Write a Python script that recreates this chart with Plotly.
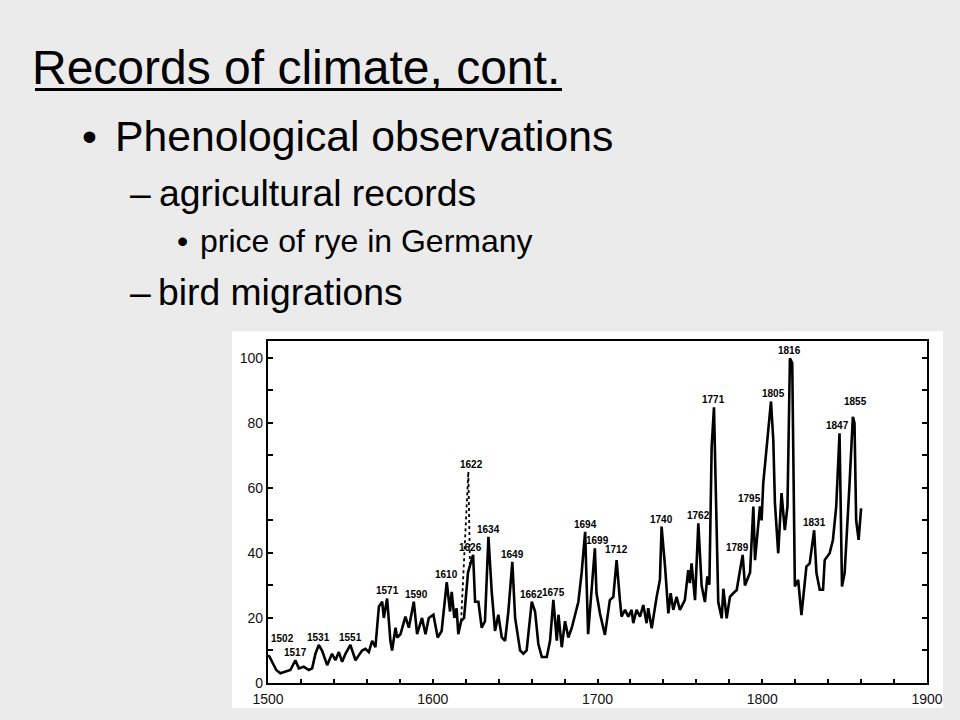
import plotly.graph_objects as go

# ---------------- data ----------------
years = [1500.0, 1500.9, 1503, 1505, 1507.5, 1510.6, 1513.6, 1516.6, 1518.7, 1521.7,
         1524.7, 1526.8, 1528.8, 1530.8, 1532.8, 1535.9, 1538.9, 1540.9, 1543, 1545,
         1547, 1550, 1553.1, 1555.1, 1557.1, 1559.2, 1561.2, 1563.2, 1565.2, 1567.3,
         1569.3, 1570.3, 1572.3, 1574.3, 1575.3, 1577.4, 1578.4, 1580.4, 1583.4, 1585.5,
         1588.5, 1590.5, 1593.5, 1595.6, 1597.6, 1600.4, 1603, 1605.4, 1608.5, 1610.5,
         1611.5, 1613.1, 1614.5, 1615.5, 1617.2, 1619, 1621.4, 1624.5, 1625.7, 1627.7,
         1629.7, 1631.7, 1633.8, 1635.8, 1637.8, 1639.8, 1641.9, 1643.9, 1645.9, 1648.3,
         1650, 1653, 1655, 1657, 1660.1, 1662.1, 1664.1, 1666.2, 1669.2, 1671.2,
         1673.2, 1675.3, 1676.3, 1678.3, 1680.3, 1682.3, 1684.4, 1686.4, 1688.4, 1690.4,
         1692.5, 1694.3, 1696, 1698.4, 1699.4, 1701.5, 1704.5, 1707.5, 1709.6, 1711.6,
         1713.6, 1714.6, 1716.7, 1718.7, 1720.7, 1721.7, 1723.7, 1725.8, 1727.8, 1729.8,
         1730.8, 1732.9, 1735.9, 1737.9, 1738.9, 1741, 1743, 1744.4, 1746, 1748,
         1750, 1753, 1755.1, 1756.1, 1757.1, 1759.2, 1761.2, 1763.2, 1765.2, 1766.7,
         1767.9, 1769.3, 1770.7, 1773.3, 1775.4, 1776.4, 1778.4, 1780.4, 1782.4, 1784.5,
         1786.5, 1787.3, 1788.1, 1789.5, 1792.6, 1794.6, 1795.6, 1798.6, 1799.6, 1800.6,
         1802.6, 1805.3, 1806.7, 1807.7, 1809.7, 1811.7, 1813.7, 1815.3, 1816.8, 1818.2,
         1819.8, 1821.8, 1823.8, 1826.8, 1828.8, 1831.5, 1832.9, 1834.9, 1836.9, 1837.9,
         1840.9, 1842.9, 1844.9, 1846.9, 1848.4, 1850, 1853, 1855, 1856, 1857,
         1858.5, 1860]
price = [8.5, 8.1, 6, 4, 3, 3.5, 4, 7, 4.5, 5,
         4, 4.5, 9, 11.7, 10, 5.5, 9, 7, 9.5, 6.5,
         9, 11.7, 7, 8.5, 10, 10.5, 9.5, 13, 11, 23.5,
         25, 20, 26, 13, 10, 17, 14, 15, 20.4, 17,
         25, 15, 20, 15, 20, 21, 14, 16, 31, 22,
         28, 20, 23, 15, 19, 20, 34, 39.4, 25, 25,
         17, 19, 45, 28, 16, 21, 14, 13, 22, 37.3,
         20, 10, 9, 10, 25, 22, 12, 8, 8, 13,
         25.6, 13, 21, 11, 19, 14, 17, 21, 25, 34,
         46.5, 15, 27, 41.4, 27.6, 21.4, 14.8, 25.5, 26.5, 37.8,
         25.5, 20.4, 22.5, 20.4, 22.5, 18.4, 22.5, 20.4, 24, 18.4,
         23, 16.8, 26.5, 31.8, 48.1, 35.8, 21.4, 27.6, 22.5, 26.5,
         22.5, 25.5, 34.7, 30.7, 36.8, 25.5, 49.1, 30, 24.9, 32.8,
         30.2, 72.7, 84.8, 24.9, 19.9, 29, 19.9, 26.5, 27.6, 28.6,
         34.7, 36.8, 39.4, 30, 34, 54.3, 37.8, 54.3, 50, 61.4,
         72.7, 86.6, 74.8, 55.3, 39.9, 58.4, 47, 54.3, 99.9, 98.4,
         29.7, 31.7, 20.9, 35.8, 36.8, 47, 33.8, 28.7, 28.7, 37.8,
         39.9, 44, 54.3, 76.8, 29.7, 33.8, 61.4, 81.9, 79.9, 50,
         44, 53.7]

dotted_years = [1617.2, 1621.6, 1622.6]
dotted_price = [19, 65, 36]

peak_labels = ["1502", "1517", "1531", "1551", "1571", "1590", "1610", "1622", "1626",
               "1634", "1649", "1662", "1675", "1694", "1699", "1712", "1740", "1762",
               "1771", "1789", "1795", "1805", "1816", "1831", "1847", "1855"]

x_tick_vals = [1500, 1520, 1540, 1560, 1580, 1600, 1620, 1640, 1660, 1680, 1700,
               1720, 1740, 1760, 1780, 1800, 1820, 1840, 1860, 1880, 1900]
x_tick_text = ["1500", "", "", "", "", "1600", "", "", "", "", "1700",
               "", "", "", "", "1800", "", "", "", "", "1900"]
y_tick_vals = [0, 10, 20, 30, 40, 50, 60, 70, 80, 90, 100]
y_tick_text = ["0", "", "20", "", "40", "", "60", "", "80", "", "100"]

title_text = "Records of climate, cont."
level1_text = "Phenological observations"
level2_texts = ["agricultural records", "bird migrations"]
level3_text = "price of rye in Germany"

# ---------------- style / layout ----------------
W, H = 960, 720
L, R, T, B = 268, 927, 341, 683
FONT = "Liberation Sans, Arial, sans-serif"
BG = "#ebebeb"


def px(xp):
    return (xp - L) / (R - L)


def py(yp):
    return (B - yp) / (B - T)


fig = go.Figure()
fig.add_trace(go.Scatter(x=years, y=price, mode="lines",
                         line=dict(color="black", width=2.6),
                         hoverinfo="skip", showlegend=False))
fig.add_trace(go.Scatter(x=dotted_years, y=dotted_price, mode="lines",
                         line=dict(color="black", width=1.8, dash="dot"),
                         hoverinfo="skip", showlegend=False))
# helper trace so the right-hand tick axis is drawn
fig.add_trace(go.Scatter(x=years[:1], y=price[:1], yaxis="y2", mode="markers",
                         marker=dict(opacity=0), hoverinfo="skip", showlegend=False))

label_xshift = {"1502": 14, "1590": 3, "1622": 3, "1626": -3, "1699": 3,
                "1789": -5, "1795": -4, "1805": 3, "1847": -2, "1855": 3}
label_yshift = {"1502": 9, "1712": 3, "1855": 8}

annotations = []
for lab in peak_labels:
    yr = int(lab)
    if lab == "1622":
        xs, ys = dotted_years, dotted_price
    else:
        xs, ys = years, price
    best = None
    for xv, yv in zip(xs, ys):
        if abs(xv - yr) <= 3 and (best is None or yv > best[1]):
            best = (xv, yv)
    annotations.append(dict(x=best[0], y=best[1], xref="x", yref="y", text="<b>%s</b>" % lab,
                            showarrow=False, xanchor="center", yanchor="bottom",
                            xshift=label_xshift.get(lab, 0), yshift=label_yshift.get(lab, 0),
                            font=dict(family=FONT, size=10, color="black")))


def slide_text(txt, x_left, baseline, size, anchor="left"):
    bottom = baseline + 0.212 * size + 2
    annotations.append(dict(x=px(x_left), y=py(bottom), xref="paper", yref="paper",
                            text=txt, showarrow=False, xanchor=anchor, yanchor="bottom",
                            font=dict(family=FONT, size=size, color="black")))


slide_text(title_text, 30, 84, 48)
slide_text("\u2022", 89.5, 151, 42.7, anchor="center")
slide_text(level1_text, 113, 151, 42.7)
slide_text("\u2013", 128, 206, 37.3)
slide_text(level2_texts[0], 156.5, 206, 37.3)
slide_text("\u2022", 182, 252, 32, anchor="center")
slide_text(level3_text, 198, 252, 32)
slide_text("\u2013", 128, 305, 37.3)
slide_text(level2_texts[1], 155.6, 305, 37.3)

shapes = [
    dict(type="rect", xref="paper", yref="paper", x0=px(232), x1=px(943),
         y0=py(708), y1=py(331), fillcolor="white", line=dict(width=0), layer="below"),
    dict(type="line", xref="paper", yref="paper", x0=px(35), x1=px(562),
         y0=py(89.5), y1=py(89.5), line=dict(color="black", width=3.2)),
]

axis_common = dict(showgrid=False, zeroline=False, ticks="inside", tickcolor="black",
                   tickwidth=2, showline=True, linecolor="black", linewidth=2.4,
                   tickfont=dict(family=FONT, size=14, color="#111"), fixedrange=True)

fig.update_layout(
    width=W, height=H, autosize=False,
    paper_bgcolor=BG, plot_bgcolor="white",
    margin=dict(l=L, r=W - R, t=T, b=H - B, pad=0),
    xaxis=dict(range=[1500, 1900], tickmode="array", tickvals=x_tick_vals,
               ticktext=x_tick_text, ticklen=4, mirror=True, ticklabelstandoff=2,
               **axis_common),
    yaxis=dict(range=[0, 105.2], tickmode="array", tickvals=y_tick_vals,
               ticktext=y_tick_text, ticklen=5, mirror=True, **axis_common),
    yaxis2=dict(range=[0, 105.2], overlaying="y", side="right", tickmode="array",
                tickvals=y_tick_vals, ticks="inside", ticklen=5, tickwidth=2,
                tickcolor="black", showticklabels=False, showline=False,
                showgrid=False, zeroline=False, fixedrange=True),
    annotations=annotations,
    shapes=shapes,
    showlegend=False,
)

fig.write_html("out.html", config={"displayModeBar": False},
               post_script="document.body.style.margin='0';")
